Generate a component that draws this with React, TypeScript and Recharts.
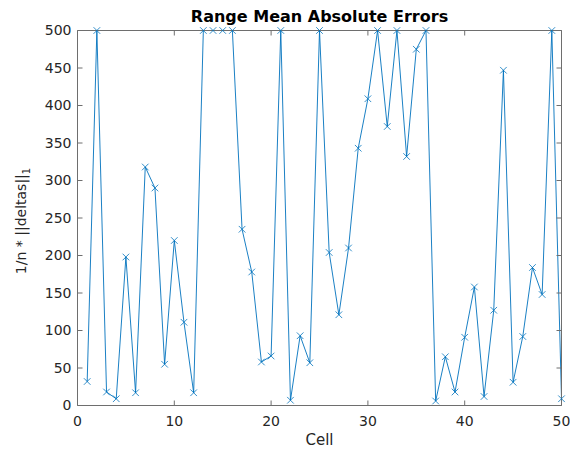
import React from 'react';
import { LineChart, Line, XAxis, YAxis, Label } from 'recharts';

const cells: number[] = Array.from({ length: 50 }, (_, i) => i + 1);
const errors: number[] = [
  32, 500, 18, 9, 198, 17, 318, 290, 55, 220,
  111, 17, 500, 500, 500, 500, 235, 178, 58, 66,
  500, 7, 93, 57, 500, 204, 121, 210, 343, 409,
  500, 372, 500, 332, 475, 500, 6, 65, 18, 91,
  158, 12, 127, 447, 31, 92, 184, 148, 500, 9,
];
const xTicks = [0, 10, 20, 30, 40, 50];
const yTicks = [0, 50, 100, 150, 200, 250, 300, 350, 400, 450, 500];

const data = cells.map((c, i) => ({ cell: c, err: errors[i] }));

const BLUE = '#0072BD';
const AXIS = '#262626';
const LINE = '#6e6e6e';
const FONT = 'DejaVu Sans';

const XDot = (props: any) => {
  const { cx, cy, index } = props;
  if (cx == null || cy == null) return null;
  const s = 3.3;
  return (
    <g key={`d${index}`}>
      <line x1={cx - s} y1={cy - s} x2={cx + s} y2={cy + s} stroke={BLUE} strokeWidth={0.8} />
      <line x1={cx - s} y1={cy + s} x2={cx + s} y2={cy - s} stroke={BLUE} strokeWidth={0.8} />
    </g>
  );
};

const YLabel = (props: any) => {
  const vb = props.viewBox || {};
  const cx = 21;
  const cy = (vb.y ?? 31) + (vb.height ?? 375) / 2 + 3;
  return (
    <text
      x={cx}
      y={cy}
      transform={`rotate(-90, ${cx}, ${cy})`}
      textAnchor="middle"
      dominantBaseline="central"
      fontFamily={FONT}
      fontSize={14}
      fill={AXIS}
    >
      1/n * ||deltas||<tspan fontSize={10} dy={5}>1</tspan>
    </text>
  );
};

const XLabel = (props: any) => {
  const vb = props.viewBox || {};
  const cx = (vb.x ?? 77.5) + (vb.width ?? 485) / 2;
  return (
    <text x={cx} y={440} textAnchor="middle" dominantBaseline="central" fontFamily={FONT} fontSize={15} fill={AXIS}>
      Cell
    </text>
  );
};

const NoTick = () => null;

export default function App() {
  const tickStyle = { fontFamily: FONT, fontSize: 14, fill: AXIS };
  return (
    <div style={{ position: 'absolute', left: 0, top: 0, width: 570, height: 449, background: '#fff' }}>
      <div
        style={{
          position: 'absolute',
          left: 77,
          width: 485,
          top: 7,
          textAlign: 'center',
          fontFamily: FONT,
          fontWeight: 'bold',
          fontSize: 16,
          color: '#000',
          lineHeight: '19px',
        }}
      >
        Range Mean Absolute Errors
      </div>
      <LineChart width={570} height={449} data={data} margin={{ top: 10.5, right: 0, bottom: 0, left: 0 }}>
        <XAxis
          xAxisId="b"
          dataKey="cell"
          type="number"
          domain={[0, 50]}
          ticks={xTicks}
          interval={0}
          stroke={LINE}
          tickSize={-5}
          tickMargin={16}
          tick={tickStyle}
          height={43.5}
        >
          <Label content={<XLabel />} />
        </XAxis>
        <XAxis
          xAxisId="t"
          orientation="top"
          dataKey="cell"
          type="number"
          domain={[0, 50]}
          ticks={xTicks}
          interval={0}
          stroke={LINE}
          tickSize={-5}
          tick={<NoTick />}
          height={20}
        />
        <YAxis
          yAxisId="l"
          type="number"
          domain={[0, 500]}
          ticks={yTicks}
          interval={0}
          stroke={LINE}
          tickSize={-5}
          tickMargin={11}
          tick={tickStyle}
          width={77.5}
        >
          <Label content={<YLabel />} />
        </YAxis>
        <YAxis
          yAxisId="r"
          orientation="right"
          type="number"
          domain={[0, 500]}
          ticks={yTicks}
          interval={0}
          stroke={LINE}
          tickSize={-5}
          tick={<NoTick />}
          width={8.5}
        />
        <Line
          xAxisId="t"
          yAxisId="r"
          type="linear"
          dataKey="err"
          stroke="none"
          dot={false}
          activeDot={false}
          isAnimationActive={false}
        />
        <Line
          xAxisId="b"
          yAxisId="l"
          type="linear"
          dataKey="err"
          stroke={BLUE}
          strokeWidth={0.9}
          dot={<XDot />}
          activeDot={false}
          isAnimationActive={false}
        />
      </LineChart>
    </div>
  );
}
